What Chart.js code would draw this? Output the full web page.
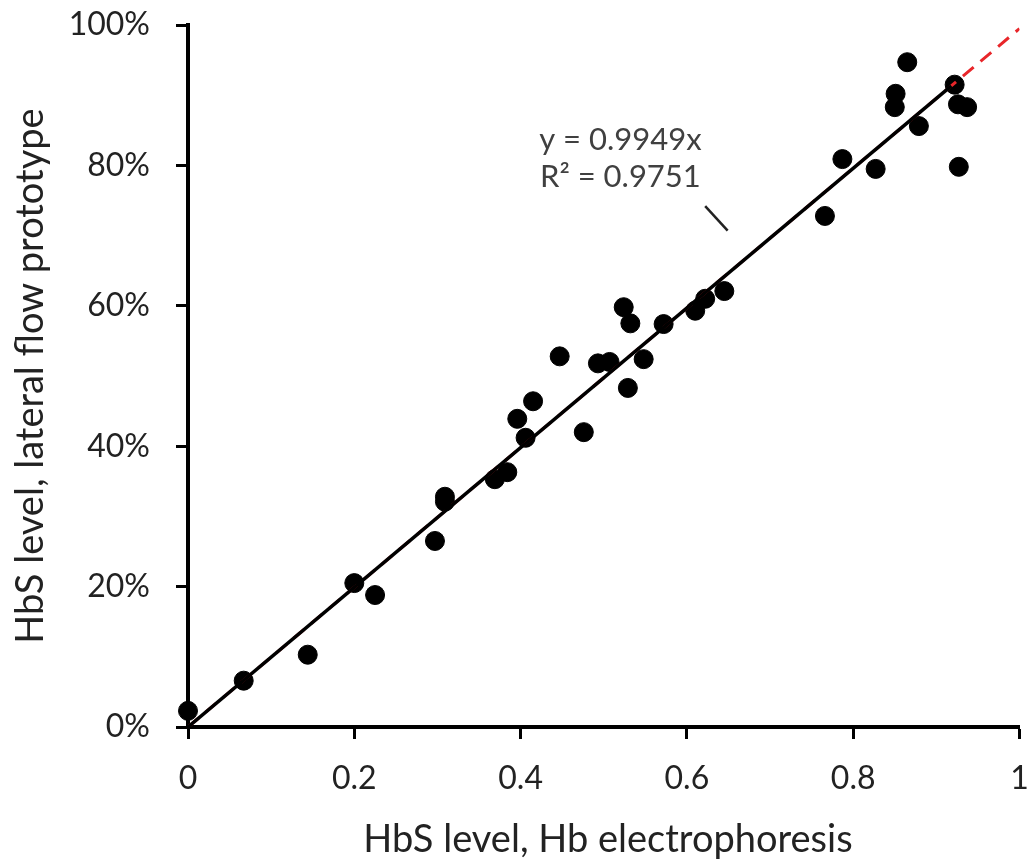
<!DOCTYPE html>
<html>
<head>
<meta charset="utf-8">
<script src="https://cdn.jsdelivr.net/npm/chart.js@4/dist/chart.umd.min.js"></script>
<style>
  html, body { margin: 0; padding: 0; background: #fff; overflow: hidden; }
  canvas { display: block; }
</style>
</head>
<body>
<canvas id="chartHbS" width="1030" height="862"></canvas>
<script>
// datos
const hbElectro = [0, 0.067, 0.144, 0.200, 0.225, 0.297, 0.309, 0.309, 0.369, 0.384, 0.396, 0.406, 0.415, 0.447, 0.476, 0.493, 0.507, 0.524, 0.529, 0.532, 0.548, 0.572, 0.610, 0.622, 0.645, 0.766, 0.787, 0.827, 0.850, 0.851, 0.865, 0.879, 0.922, 0.926, 0.927, 0.937];
const hbLateral = [0.023, 0.066, 0.103, 0.205, 0.188, 0.265, 0.328, 0.321, 0.353, 0.363, 0.439, 0.412, 0.464, 0.528, 0.420, 0.518, 0.520, 0.598, 0.483, 0.575, 0.524, 0.574, 0.593, 0.610, 0.621, 0.728, 0.809, 0.795, 0.883, 0.902, 0.947, 0.856, 0.915, 0.887, 0.798, 0.883];

const slope = 0.9949;
const fitRange = [0, 0.918];     // tramo negro de la tendencia
const identityRange = [0, 1];    // tramo rojo discontinuo
const eqLines = ["y = 0.9949x", "R² = 0.9751"];

const xTitle = "HbS level, Hb electrophoresis";
const yTitle = "HbS level, lateral flow prototype";

const FONT = "Lato, 'Open Sans', sans-serif";

const puntos = hbElectro.map((x, i) => ({ x: x, y: hbLateral[i] }));
const lineaFit = fitRange.map(x => ({ x: x, y: slope * x }));
const lineaRoja = identityRange.map(x => ({ x: x, y: slope * x }));

// texto de la ecuacion + linea guia y titulo del eje x
const anotaciones = {
    id: 'anotaciones',
    afterDraw(chart) {
        const { ctx, scales } = chart;
        const xs = scales.x, ys = scales.y;
        ctx.save();
        ctx.fillStyle = '#404040';
        ctx.font = "31px " + FONT;
        ctx.textAlign = 'center';
        ctx.textBaseline = 'middle';
        ctx.fillText(eqLines[0], xs.getPixelForValue(0.52), ys.getPixelForValue(0.836));
        ctx.fillText(eqLines[1], xs.getPixelForValue(0.52), ys.getPixelForValue(0.783));

        ctx.strokeStyle = '#222';
        ctx.lineWidth = 2.5;
        ctx.beginPath();
        ctx.moveTo(xs.getPixelForValue(0.622), ys.getPixelForValue(0.742));
        ctx.lineTo(xs.getPixelForValue(0.649), ys.getPixelForValue(0.707));
        ctx.stroke();

        // titulo eje x: linea base donde terminan las mayusculas en la figura
        ctx.fillStyle = '#222';
        ctx.font = "38px " + FONT;
        ctx.textBaseline = 'alphabetic';
        ctx.fillText(xTitle, 608, 852);
        ctx.restore();
    }
};

const ctx = document.getElementById('chartHbS').getContext('2d');
new Chart(ctx, {
    type: 'scatter',
    data: {
        datasets: [
            {
                label: 'identidad',
                type: 'line',
                data: lineaRoja,
                borderColor: '#e8262a',
                borderWidth: 3,
                borderDash: [14, 9],
                pointRadius: 0,
                fill: false,
                order: 1
            },
            {
                label: 'tendencia',
                type: 'line',
                data: lineaFit,
                borderColor: '#000',
                borderWidth: 3.5,
                pointRadius: 0,
                fill: false,
                order: 0
            },
            {
                label: 'HbS',
                data: puntos,
                backgroundColor: '#000',
                borderColor: '#000',
                pointRadius: 9.5,
                pointHoverRadius: 9.5,
                clip: false,
                order: 2
            }
        ]
    },
    options: {
        responsive: false,
        animation: false,
        layout: { padding: { left: 0, top: 25, right: 8, bottom: 0 } },
        plugins: {
            legend: { display: false },
            tooltip: { enabled: false }
        },
        scales: {
            x: {
                type: 'linear',
                min: 0,
                max: 1,
                afterFit(s) { s.height = 135; s.paddingLeft = 0; s.paddingRight = 0; },
                ticks: {
                    stepSize: 0.2,
                    padding: 20,
                    color: '#222',
                    font: { family: FONT, size: 32 },
                    maxRotation: 0,
                    callback: v => (v === 0 || v === 1) ? String(v) : v.toFixed(1)
                },
                grid: {
                    drawOnChartArea: false,
                    tickLength: 12,
                    tickWidth: 3,
                    tickColor: '#000'
                },
                border: { color: '#000', width: 4 }
            },
            y: {
                type: 'linear',
                min: 0,
                max: 1,
                afterFit(s) { s.width = 188; s.paddingTop = 0; s.paddingBottom = 0; },
                ticks: {
                    stepSize: 0.2,
                    padding: 26,
                    color: '#222',
                    font: { family: FONT, size: 32 },
                    callback: v => Math.round(v * 100) + '%'
                },
                grid: {
                    drawOnChartArea: false,
                    tickLength: 12,
                    tickWidth: 3,
                    tickColor: '#000'
                },
                border: { color: '#000', width: 4 },
                title: {
                    display: true,
                    text: yTitle,
                    color: '#222',
                    font: { family: FONT, size: 38 },
                    padding: { top: 8, bottom: 0 }
                }
            }
        }
    },
    plugins: [anotaciones]
});
</script>
</body>
</html>
